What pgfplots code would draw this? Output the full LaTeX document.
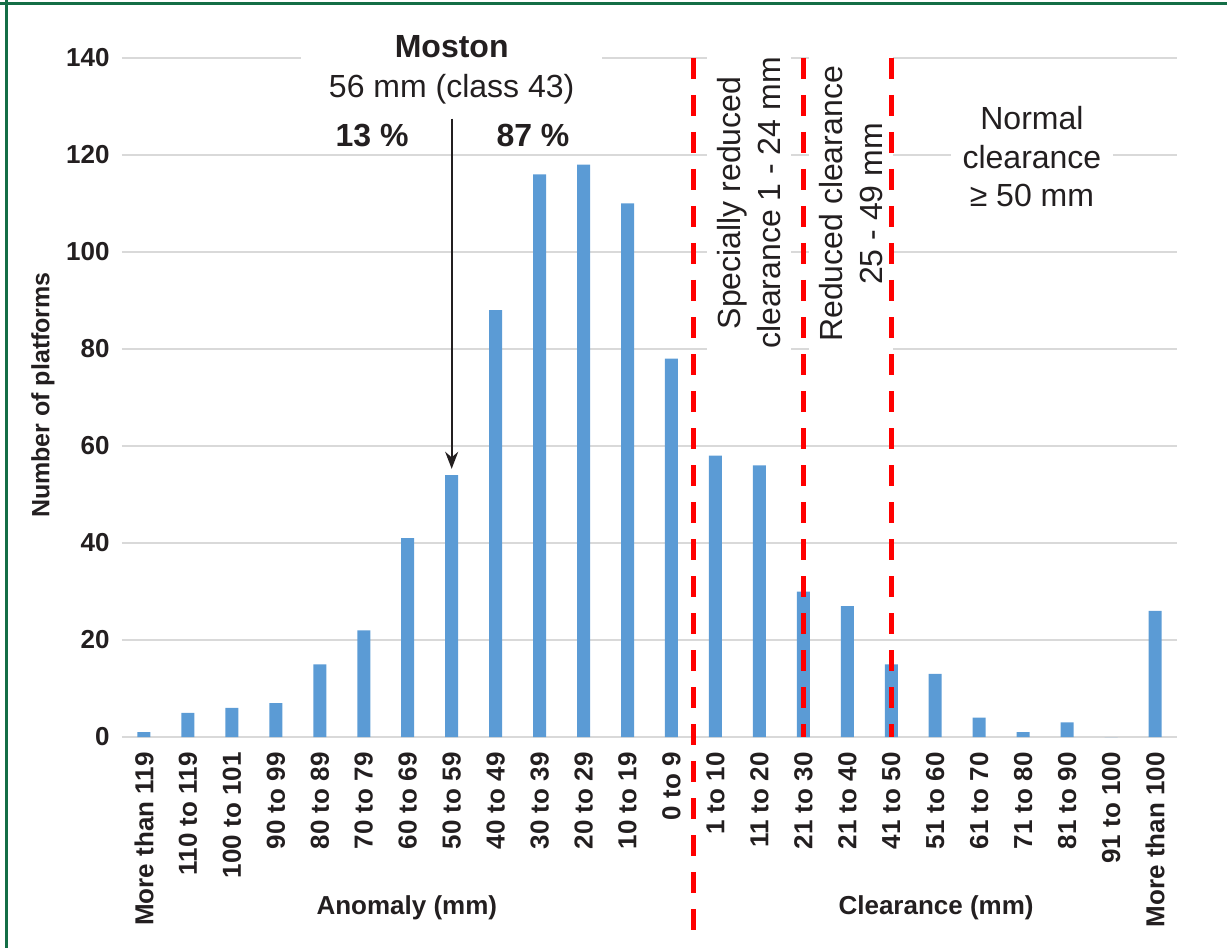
\documentclass[border=0pt]{standalone}
\usepackage{fontspec}
\setmainfont{Liberation Sans}
\usepackage{pgfplots}
\pgfplotsset{compat=1.18}
\usetikzlibrary{arrows.meta}
\definecolor{barblue}{RGB}{91,155,213}
\definecolor{framegreen}{RGB}{20,110,70}
\definecolor{gridgray}{RGB}{217,217,217}
\definecolor{txt}{RGB}{35,31,32}
\begin{document}
\begin{tikzpicture}
\useasboundingbox (0,0) rectangle (613.5pt,474pt);
\begin{axis}[
 at={(61pt,105.5pt)}, anchor=south west,
 scale only axis, width=527.5pt, height=339.5pt,
 xmin=-0.5, xmax=23.5, ymin=0, ymax=140,
 clip=false,
 axis line style={draw=none},
 ymajorgrids, grid style={draw=gridgray, line width=0.75pt},
 major tick length=0pt,
 ytick={0,20,...,140},
 xtick={0,...,23},
 xticklabels={More than 119, 110 to 119, 100 to 101, 90 to 99, 80 to 89, 70 to 79, 60 to 69, 50 to 59, 40 to 49, 30 to 39, 20 to 29, 10 to 19, 0 to 9, 1 to 10, 11 to 20, 21 to 30, 21 to 40, 41 to 50, 51 to 60, 61 to 70, 71 to 80, 81 to 90, 91 to 100, More than 100},
 /pgf/number format/assume math mode=true,
 ticklabel style={font=\fontsize{13}{15}\selectfont\bfseries, text=txt},
 yticklabel style={xshift=-6pt, anchor=east, inner sep=0pt},
 xticklabel style={yshift=-7.5pt, rotate=90, anchor=east, inner sep=0pt},
]
\addplot[ybar, bar width=6.5pt, fill=barblue, draw=none] coordinates {
(0,1) (1,5) (2,6) (3,7) (4,15) (5,22) (6,41) (7,54) (8,88) (9,116) (10,118) (11,110)
(12,78) (13,58) (14,56) (15,30) (16,27) (17,15) (18,13) (19,4) (20,1) (21,3) (22,0) (23,26)};

\node[fill=white, align=center, inner xsep=14pt, inner ysep=3pt, font=\fontsize{16}{20}\selectfont, text=txt] at (axis cs:7,137.5) {{\bfseries Moston}\\56 mm (class 43)};
\node[font=\fontsize{16}{19}\selectfont\bfseries, text=txt] at (axis cs:5.19,124.1) {13 \%};
\node[font=\fontsize{16}{19}\selectfont\bfseries, text=txt] at (axis cs:8.85,124.1) {87 \%};
\draw[-{Stealth[length=8.5pt, width=6.5pt]}, line width=1pt, txt] (axis cs:7,127.5) -- (axis cs:7,55.3);

\node[rotate=90, fill=white, align=center, inner sep=5pt, font=\fontsize{16}{20}\selectfont, text=txt] at (axis cs:13.76,110.1) {Specially reduced\\clearance 1 - 24 mm};
\node[rotate=90, fill=white, align=center, inner sep=5pt, font=\fontsize{16}{20}\selectfont, text=txt] at (axis cs:16.08,109.9) {Reduced clearance\\25 - 49 mm};
\node[fill=white, align=center, inner xsep=6pt, inner ysep=3pt, font=\fontsize{16}{19.25}\selectfont, text=txt] at (axis cs:20.2,119.6) {Normal\\clearance\\≥ 50 mm};

\draw[red, line width=2.4pt, dash pattern=on 10.5pt off 8pt] (axis cs:12.5,140) -- (axis cs:12.5,-43);
\draw[red, line width=2.4pt, dash pattern=on 10.5pt off 8pt] (axis cs:15,140) -- (axis cs:15,0);
\draw[red, line width=2.4pt, dash pattern=on 10.5pt off 8pt] (axis cs:17,140) -- (axis cs:17,0);

\node[font=\fontsize{13}{15}\selectfont\bfseries, text=txt] at (axis cs:5.98,-35.3) {Anomaly (mm)};
\node[font=\fontsize{13}{15}\selectfont\bfseries, text=txt] at (axis cs:18.02,-35.3) {Clearance (mm)};
\node[rotate=90, font=\fontsize{12.5}{15}\selectfont\bfseries, text=txt] at (axis cs:-2.3,70.5) {Number of platforms};
\end{axis}
\draw[framegreen, line width=1.5pt] (0,472pt) -- (613.5pt,472pt);
\draw[framegreen, line width=1.5pt] (3pt,0) -- (3pt,474pt);
\end{tikzpicture}
\end{document}
